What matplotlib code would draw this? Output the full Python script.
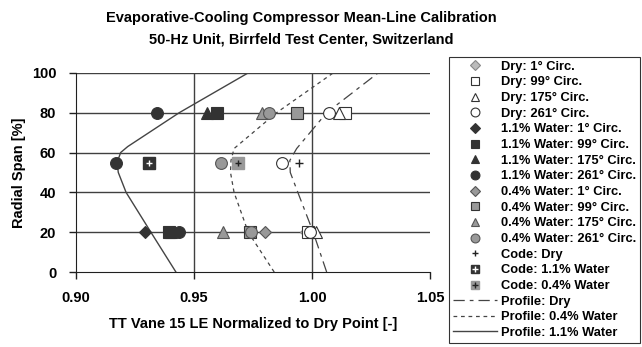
import matplotlib.pyplot as plt
from matplotlib.lines import Line2D

plt.rcParams['font.family'] = ['Liberation Sans', 'DejaVu Sans']
plt.rcParams['font.weight'] = 'bold'
plt.rcParams['axes.labelweight'] = 'bold'

# measured points: normalized TT at span 80 / 55 / 20 % (None = not measured)
spans = [80, 55, 20]
dry_1 = [None, None, 0.9973]
dry_99 = [1.0141, None, 0.9982]
dry_175 = [1.0116, None, 1.0017]
dry_261 = [1.0073, 0.9871, 0.9992]
w11_1 = [None, None, 0.9295]
w11_99 = [0.9599, None, 0.9395]
w11_175 = [0.9554, None, 0.9405]
w11_261 = [0.9345, 0.9170, 0.9436]
w04_1 = [None, None, 0.9800]
w04_99 = [0.9935, None, 0.9737]
w04_175 = [0.9790, None, 0.9624]
w04_261 = [0.9820, 0.9613, 0.9740]

code_span = [55]
code_dry = [0.9945]
code_11 = [0.9310]
code_04 = [0.9688]

# radial profiles
prof_dry_x = [1.0062, 1.0005, 0.9940, 0.9908, 0.9906, 0.9935, 1.0062, 1.0280]
prof_dry_y = [0, 20, 40, 50, 56, 62, 80, 100]
prof_04_x = [0.9840, 0.9730, 0.9670, 0.9655, 0.9657, 0.9670, 0.9850, 1.0090]
prof_04_y = [0, 20, 40, 50, 56, 62, 80, 100]
prof_11_x = [0.9424, 0.9318, 0.9213, 0.9180, 0.9175, 0.9190, 0.9220, 0.9438, 0.9730]
prof_11_y = [0, 20, 40, 50, 55, 60, 63, 80, 100]

dark = '#333333'
gray = '#999999'
edge = '#333333'

fig = plt.figure(figsize=(6.42, 3.47), dpi=100)
ax = fig.add_axes([0.118, 0.216, 0.552, 0.574])

ax.set_xlim(0.90, 1.05)
ax.set_ylim(0, 100)
ax.set_xticks([0.90, 0.95, 1.00, 1.05])
ax.set_yticks([0, 20, 40, 60, 80, 100])
ax.set_xticklabels(['0.90', '0.95', '1.00', '1.05'])
for y in [20, 40, 60, 80, 100]:
    ax.axhline(y, color='#404040', lw=1.0, zorder=1)
for x in [0.95, 1.00]:
    ax.axvline(x, color='#404040', lw=1.0, zorder=1)
for s in ['top', 'right']:
    ax.spines[s].set_visible(False)
for s in ['left', 'bottom']:
    ax.spines[s].set_color('#202020')
ax.tick_params(direction='out', length=5, width=1, pad=9, labelsize=10.5, color='#202020')
for t in ax.get_xticklabels() + ax.get_yticklabels():
    t.set_fontweight('bold')

handles = []
labels = []

def series(vals, marker, fc, ec, ms, label):
    xs = [v for v in vals if v is not None]
    ys = [s for v, s in zip(vals, spans) if v is not None]
    ax.plot(xs, ys, ls='none', marker=marker, ms=ms, mfc=fc, mec=ec, mew=0.8, zorder=4)
    handles.append(Line2D([], [], ls='none', marker=marker, ms=ms * 0.75, mfc=fc, mec=ec, mew=0.8))
    labels.append(label)

series(dry_1, 'D', '#bbbbbb', '#888888', 6.5, 'Dry: 1° Circ.')
series(dry_99, 's', 'white', edge, 8, 'Dry: 99° Circ.')
series(dry_175, '^', 'white', edge, 8.5, 'Dry: 175° Circ.')
series(dry_261, 'o', 'white', edge, 8.5, 'Dry: 261° Circ.')
series(w11_1, 'D', dark, dark, 6.5, '1.1% Water: 1° Circ.')
series(w11_99, 's', dark, dark, 8, '1.1% Water: 99° Circ.')
series(w11_175, '^', dark, dark, 8.5, '1.1% Water: 175° Circ.')
series(w11_261, 'o', dark, dark, 8.5, '1.1% Water: 261° Circ.')
series(w04_1, 'D', gray, '#555555', 6.5, '0.4% Water: 1° Circ.')
series(w04_99, 's', gray, edge, 8, '0.4% Water: 99° Circ.')
series(w04_175, '^', gray, '#555555', 8.5, '0.4% Water: 175° Circ.')
series(w04_261, 'o', gray, '#555555', 8.5, '0.4% Water: 261° Circ.')

# code results
ax.plot(code_dry, code_span, ls='none', marker='+', ms=6, mec='#222222', mew=1, zorder=5)
handles.append(Line2D([], [], ls='none', marker='+', ms=4.5, mec='#222222', mew=1))
labels.append('Code: Dry')
ax.plot(code_11, code_span, ls='none', marker='s', ms=8, mfc=dark, mec=dark, zorder=5)
ax.plot(code_11, code_span, ls='none', marker='+', ms=5, mec='white', mew=1, zorder=6)
handles.append((Line2D([], [], ls='none', marker='s', ms=6, mfc=dark, mec=dark),
                Line2D([], [], ls='none', marker='+', ms=4, mec='white', mew=1)))
labels.append('Code: 1.1% Water')
ax.plot(code_04, code_span, ls='none', marker='s', ms=8, mfc=gray, mec=gray, zorder=5)
ax.plot(code_04, code_span, ls='none', marker='+', ms=5, mec='#222222', mew=1, zorder=6)
handles.append((Line2D([], [], ls='none', marker='s', ms=6, mfc=gray, mec=gray),
                Line2D([], [], ls='none', marker='+', ms=4, mec='#222222', mew=1)))
labels.append('Code: 0.4% Water')

# profiles
h1, = ax.plot(prof_dry_x, prof_dry_y, color='#444444', lw=0.9, dashes=(9, 4, 3, 4), zorder=3)
h2, = ax.plot(prof_04_x, prof_04_y, color='#444444', lw=0.9, dashes=(3, 3), zorder=3)
h3, = ax.plot(prof_11_x, prof_11_y, color='#444444', lw=1.0, zorder=3)
handles += [h1, h2, h3]
labels += ['Profile: Dry', 'Profile: 0.4% Water', 'Profile: 1.1% Water']

ax.set_xlabel('TT Vane 15 LE Normalized to Dry Point [-]', fontsize=10.5, labelpad=8)
ax.set_ylabel('Radial Span [%]', fontsize=10.5, labelpad=4)
fig.text(0.47, 1 - 18 / 347, 'Evaporative-Cooling Compressor Mean-Line Calibration',
         ha='center', va='center', fontsize=10.5, fontweight='bold')
fig.text(0.47, 1 - 40 / 347, '50-Hz Unit, Birrfeld Test Center, Switzerland',
         ha='center', va='center', fontsize=10.5, fontweight='bold')

leg = fig.legend(handles, labels, loc='upper left', bbox_to_anchor=(0.699, 0.836),
                 fontsize=9.3, frameon=True, fancybox=False, borderpad=0.3,
                 handlelength=3.4, handletextpad=0.35, labelspacing=0.28,
                 borderaxespad=0)
leg.get_frame().set_edgecolor('black')
leg.get_frame().set_linewidth(0.8)

fig.savefig('out.png', dpi=100)
